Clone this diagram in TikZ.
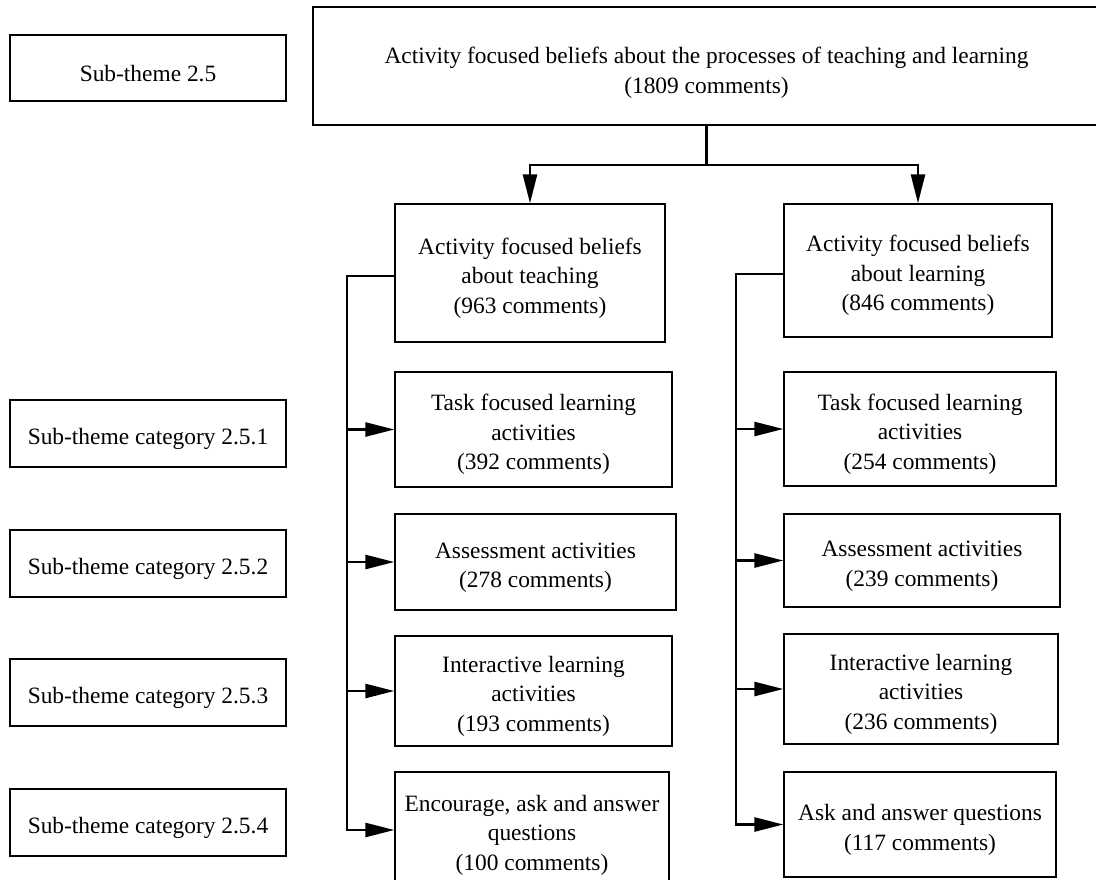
\documentclass[tikz,border=0pt]{standalone}
\usepackage{fontspec}
\setmainfont{Liberation Serif}
\usetikzlibrary{arrows.meta}
% extra room above the first line, so that the text sits a little low in its box
\newcommand\boxlead[1][26.5pt]{\rule{0pt}{#1}}
\begin{document}
\begin{tikzpicture}[x=1pt,y=-1pt,
  box/.style={draw, line width=1.3pt, align=center, inner sep=0pt,
    font=\fontsize{23.4}{29.5}\selectfont},
  conn/.style={line width=2.5pt},
  tip/.style={-{Triangle[length=29pt,width=14pt]}}]
\useasboundingbox (0,0) rectangle (1096,879);

% labels on the left
\node[box, minimum width=276pt, minimum height=66pt] (s25) at (148,68) {\boxlead Sub-theme 2.5};
\node[box, minimum width=276pt, minimum height=67pt] (c1) at (148,433.5) {\boxlead Sub-theme category 2.5.1};
\node[box, minimum width=276pt, minimum height=67pt] (c2) at (148,563.5) {\boxlead Sub-theme category 2.5.2};
\node[box, minimum width=276pt, minimum height=67pt] (c3) at (148,692.5) {\boxlead Sub-theme category 2.5.3};
\node[box, minimum width=276pt, minimum height=67pt] (c4) at (148,822.5) {\boxlead Sub-theme category 2.5.4};

% main theme
\node[box, minimum width=787pt, minimum height=118pt] (top) at (706.5,66)
  {\boxlead[30pt]Activity focused beliefs about the processes of teaching and learning\\(1809 comments)};

% teaching branch
\node[box, minimum width=270pt, minimum height=138pt] (teach) at (530,273)
  {\boxlead Activity focused beliefs\\about teaching\\(963 comments)};
\node[box, minimum width=277pt, minimum height=115pt] (t1) at (533.5,429.5)
  {\boxlead Task focused learning\\activities\\(392 comments)};
\node[box, minimum width=281pt, minimum height=96pt] (t2) at (535.5,562)
  {\boxlead Assessment activities\\(278 comments)};
\node[box, minimum width=277pt, minimum height=110pt] (t3) at (533.5,691)
  {\boxlead Interactive learning\\activities\\(193 comments)};
\node[box, minimum width=274pt, minimum height=116pt] (t4) at (532,830)
  {\boxlead Encourage, ask and answer\\questions\\(100 comments)};

% learning branch
\node[box, minimum width=268pt, minimum height=133pt] (learn) at (918,270.5)
  {\boxlead Activity focused beliefs\\about learning\\(846 comments)};
\node[box, minimum width=272pt, minimum height=114pt] (l1) at (920,429)
  {\boxlead Task focused learning\\activities\\(254 comments)};
\node[box, minimum width=276pt, minimum height=93pt] (l2) at (922,560.5)
  {\boxlead Assessment activities\\(239 comments)};
\node[box, minimum width=274pt, minimum height=110pt] (l3) at (921,689)
  {\boxlead Interactive learning\\activities\\(236 comments)};
\node[box, minimum width=272pt, minimum height=105pt] (l4) at (920,824.5)
  {\boxlead Ask and answer questions\\(117 comments)};

% split below the main theme
\coordinate (split) at (706.5,165);
\draw[conn] (top.south) -- (split);
\draw[conn, tip] (split) -| (teach.north);
\draw[conn, tip] (split) -| (learn.north);

% teaching bus
\coordinate (tbus) at (347,0);
\draw[conn, tip] ([yshift=-3pt]teach.west) -| (tbus |- t4.west) -- (t4.west);
\draw[conn, tip] (tbus |- t1.west) -- (t1.west);
\draw[conn, tip] (tbus |- t2.west) -- (t2.west);
\draw[conn, tip] (tbus |- t3.west) -- (t3.west);

% learning bus
\coordinate (lbus) at (736,0);
\draw[conn, tip] ([yshift=-3.5pt]learn.west) -| (lbus |- l4.west) -- (l4.west);
\draw[conn, tip] (lbus |- l1.west) -- (l1.west);
\draw[conn, tip] (lbus |- l2.west) -- (l2.west);
\draw[conn, tip] (lbus |- l3.west) -- (l3.west);
\end{tikzpicture}
\end{document}
